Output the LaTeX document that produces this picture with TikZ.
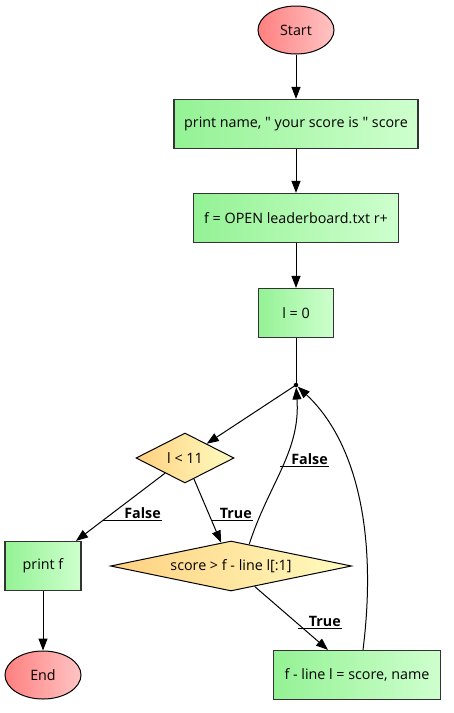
\documentclass[tikz,border=0pt]{standalone}
\usepackage{fontspec}
\setmainfont{Open Sans}
\usetikzlibrary{shapes.geometric,arrows.meta}
\pgfdeclarelayer{edgelayer}
\pgfdeclarelayer{nodelayer}
\pgfsetlayers{edgelayer,nodelayer,main}
\definecolor{termL}{RGB}{255,128,128}
\definecolor{termR}{RGB}{255,196,196}
\definecolor{procL}{RGB}{148,242,148}
\definecolor{procR}{RGB}{206,255,206}
\definecolor{condL}{RGB}{255,208,128}
\definecolor{condR}{RGB}{255,252,192}
\tikzset{font=\fontsize{14.3}{17}\selectfont}
\tikzstyle{none}=[inner sep=0pt]
\tikzstyle{term}=[ellipse,draw,line width=1pt,inner sep=0pt,minimum width=76pt,minimum height=48pt,left color=termL,right color=termR]
\tikzstyle{proc}=[rectangle,draw=black!80,line width=1.2pt,inner sep=0pt,minimum height=49pt,left color=procL,right color=procR]
\tikzstyle{cond}=[diamond,draw,line width=1pt,inner sep=0pt,left color=condL,right color=condR,minimum height=50pt]
\tikzstyle{joint}=[circle,fill=black,inner sep=1.6pt]
\tikzstyle{lbl}=[inner sep=1pt,font=\fontsize{14.3}{17}\selectfont\bfseries]
\tikzstyle{flow}=[line width=1pt,-{Triangle[length=12pt,width=9pt]}]

\begin{document}
\begin{tikzpicture}[x=1pt,y=1pt]
	\useasboundingbox (0,0) rectangle (453,-713);
	\begin{pgfonlayer}{nodelayer}
		\node [style=term] (0) at (296, -30) {Start};
		\node [style=proc, minimum width=244pt] (1) at (296, -124) {print name, \textquotedbl\ your score is \textquotedbl\ score};
		\node [style=proc, minimum width=205pt] (2) at (296, -218) {f = OPEN leaderboard.txt r+};
		\node [style=proc, minimum width=75pt] (3) at (296, -313) {l = 0};
		\node [style=joint] (4) at (296, -385) {};
		\node [style=cond, aspect=2, minimum width=98pt] (5) at (185, -458) {l < 11};
		\node [style=proc, minimum width=76pt] (6) at (43, -566) {print f};
		\node [style=cond, aspect=4.8, minimum width=241pt] (7) at (231, -566) {score > f - line l[:1]};
		\node [style=term] (8) at (43, -675) {End};
		\node [style=proc, minimum width=167pt] (9) at (357, -675) {f - line l = score, name};
		\node [style=lbl, anchor=south east] (10) at (162, -520) {False};
		\node [style=lbl, anchor=south east] (11) at (253, -520) {True};
		\node [style=lbl, anchor=south east] (12) at (329, -466) {False};
		\node [style=lbl, anchor=south east] (13) at (342, -628) {True};
		\coordinate (14) at (103, -520);
		\coordinate (15) at (212, -520);
		\coordinate (16) at (280, -466);
		\coordinate (17) at (298, -628);
	\end{pgfonlayer}
	\begin{pgfonlayer}{edgelayer}
		\draw[style=flow] (0) to (1);
		\draw[style=flow] (1) to (2);
		\draw[style=flow] (2) to (3);
		\draw[line width=1pt] (3) to (4.center);
		\draw[style=flow] (4.center) to (5);
		\draw[style=flow] (5) to (6);
		\draw[style=flow] (5) to (7);
		\draw[style=flow] (6) to (8);
		\draw[style=flow] (7) to (9);
		\draw[style=flow] (7.50) to [out=72, in=-86] (4);
		\draw[style=flow] ([xshift=6pt]9.north) .. controls (378, -530) and (355, -440) .. (4);
		\draw[line width=1pt] (14) to (10.south east);
		\draw[line width=1pt] (15) to (11.south east);
		\draw[line width=1pt] (16) to (12.south east);
		\draw[line width=1pt] (17) to (13.south east);
	\end{pgfonlayer}
\end{tikzpicture}
\end{document}
